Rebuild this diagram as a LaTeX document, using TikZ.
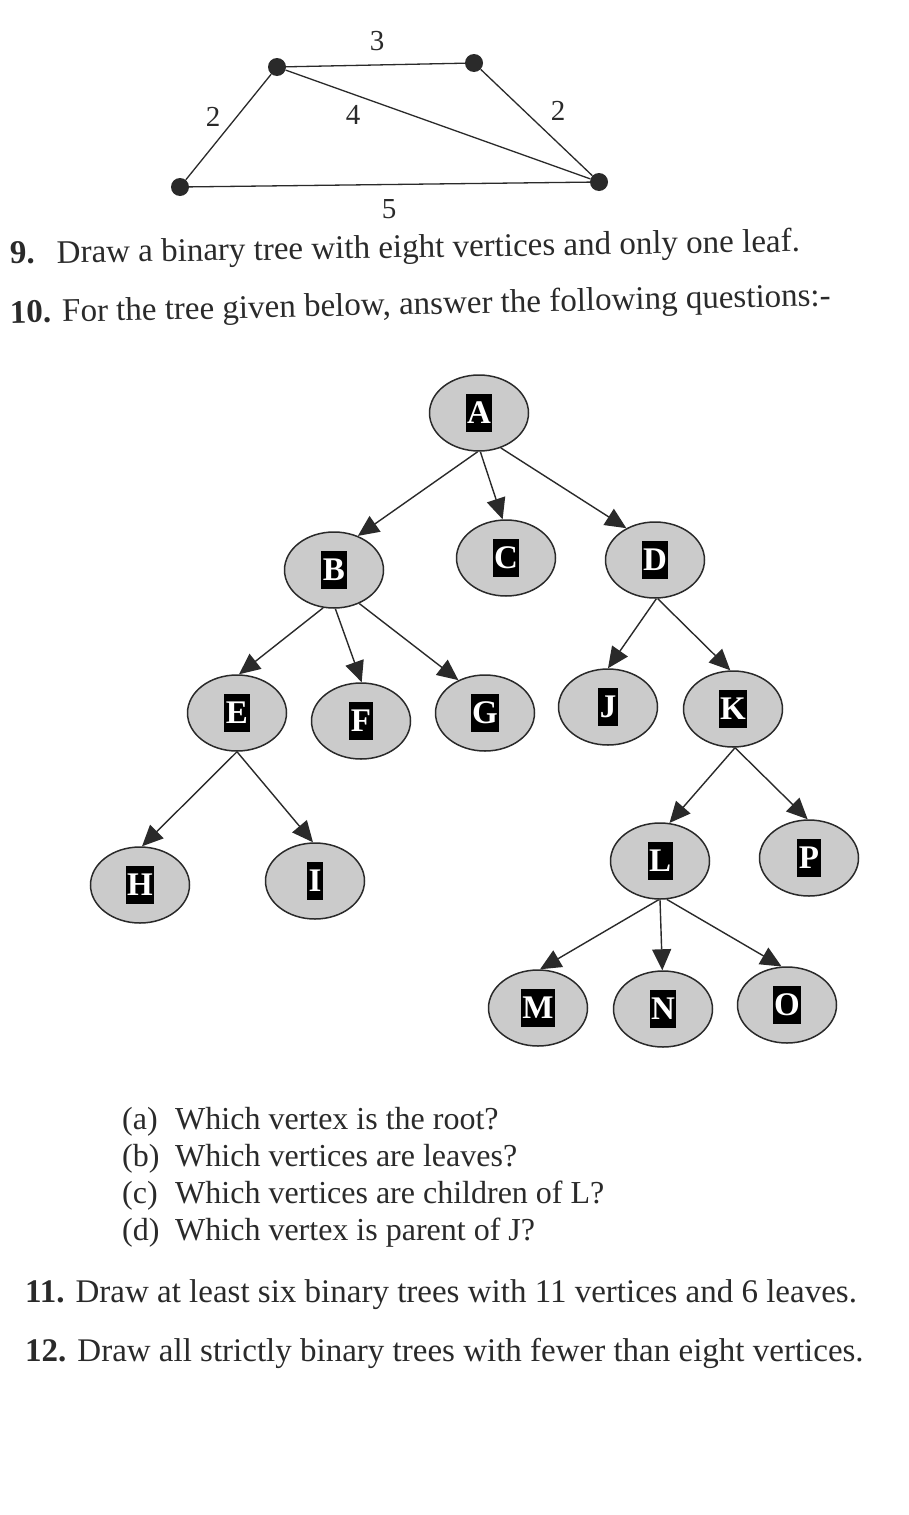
\documentclass[tikz,border=0pt]{standalone}
\usepackage{fontspec}
\setmainfont{Liberation Serif}
\usetikzlibrary{arrows.meta,shapes.geometric}
\definecolor{ink}{HTML}{2A2A2A}
\definecolor{nodefill}{HTML}{CBCBCB}
\tikzset{
  vtx/.style={ellipse,draw=ink,fill=nodefill,line width=1.5pt,minimum width=99pt,minimum height=76pt,inner sep=0pt},
  lbl/.style={fill=black,text=white,font=\fontsize{33}{33}\selectfont\bfseries,inner xsep=1.5pt,inner ysep=0pt,text height=29pt,text depth=8.5pt},
  edge/.style={draw=ink,line width=1.4pt,-{Triangle[length=21pt,width=19pt]}},
  dot/.style={circle,fill=ink,minimum size=18pt,inner sep=0pt},
  gedge/.style={draw=ink,line width=1.3pt},
  wt/.style={font=\fontsize{29}{29}\selectfont,text=ink},
  qtext/.style={anchor=base west,font=\fontsize{33}{33}\selectfont,text=ink,inner sep=0pt},
  subq/.style={anchor=base west,font=\fontsize{32}{32}\selectfont,text=ink,inner sep=0pt}
}
\begin{document}
\begin{tikzpicture}[x=1pt,y=-1pt]
\useasboundingbox[fill=white] (0,0) rectangle (908,1515);
% weighted graph
\node[dot] (p1) at (277,67) {};
\node[dot] (p2) at (474,63) {};
\node[dot] (p3) at (180,187) {};
\node[dot] (p4) at (599,182) {};
\draw[gedge] (p1) -- (p2);
\draw[gedge] (p1) -- (p3);
\draw[gedge] (p1) -- (p4);
\draw[gedge] (p2) -- (p4);
\draw[gedge] (p3) -- (p4);
\node[wt] (w3) at (377,41) {3};
\node[wt] (w2a) at (213,117) {2};
\node[wt] (w4) at (353,115) {4};
\node[wt] (w2b) at (558,111) {2};
\node[wt] (w5) at (389,209) {5};
% questions
\node[qtext,rotate=0.9] (q9) at (10,264) {\textbf{9.}\hspace{22pt}Draw a binary tree with eight vertices and only one leaf.};
\node[qtext,rotate=1.2] (q10) at (10,323) {\textbf{10.} For the tree given below, answer the following questions:-};
% tree nodes
\foreach \n/\x/\y in {A/479/413,B/334/570,C/506/558,D/655/560,E/237/713,F/361/721,G/485/713,H/140/885,I/315/881,J/608/707,K/733/709,L/660/861,P/809/858,M/538/1008,N/663/1009,O/787/1005}{
  \node[vtx] (\n) at (\x,\y) {};
  \node[lbl] (\n lab) at (\x,\y) {\n};
}
% edges
\draw[edge] (A.-92) -- (B.55);
\draw[edge] (A.-88) -- (C.95);
\draw[edge] (A.-58) -- (D.132);
\draw[edge] (B.-106) -- (E.87);
\draw[edge] (B.-88) -- (F.89);
\draw[edge] (B.-53) -- (G.129);
\draw[edge] (E.-90) -- (H.87);
\draw[edge] (E.-90) -- (I.93);
\draw[edge] (D.-88) -- (J.90);
\draw[edge] (D.-86) -- (K.94);
\draw[edge] (K.-87) -- (L.76);
\draw[edge] (K.-87) -- (P.92);
\draw[edge] (L.-92) -- (M.87);
\draw[edge] (L.-90) -- (N.91);
\draw[edge] (L.-80) -- (O.98);
% sub-questions
\node[subq] (qa) at (122,1129) {\makebox[53pt][l]{(a)}Which vertex is the root?};
\node[subq] (qb) at (122,1166) {\makebox[53pt][l]{(b)}Which vertices are leaves?};
\node[subq] (qc) at (122,1203) {\makebox[53pt][l]{(c)}Which vertices are children of L?};
\node[subq] (qd) at (122,1240) {\makebox[53pt][l]{(d)}Which vertex is parent of J?};
% last questions
\node[qtext] (q11) at (25,1302) {\textbf{11.} Draw at least six binary trees with 11 vertices and 6 leaves.};
\node[qtext] (q12) at (25,1361) {\textbf{12.} Draw all strictly binary trees with fewer than eight vertices.};
\end{tikzpicture}
\end{document}
